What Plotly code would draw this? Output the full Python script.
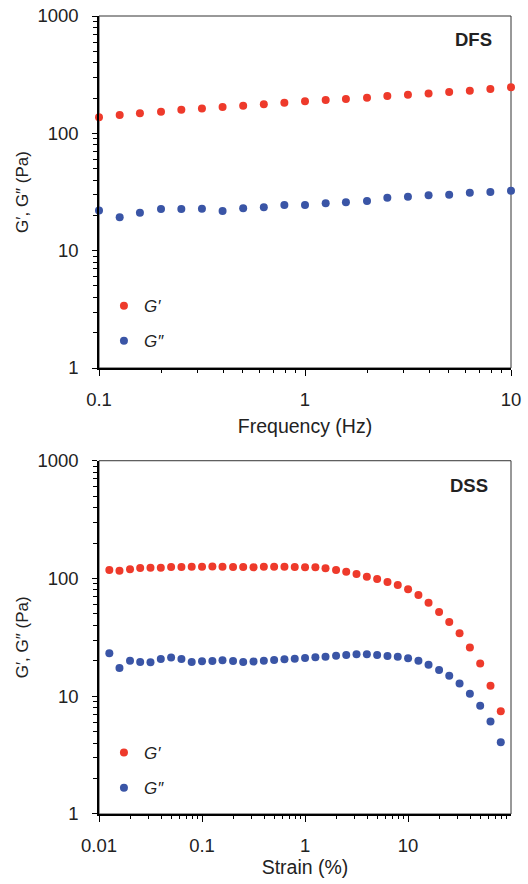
import plotly.graph_objects as go

# ---------------- data ----------------
freq_hz = [0.1, 0.126, 0.158, 0.2, 0.251, 0.316, 0.398, 0.501, 0.631, 0.794,
           1.0, 1.26, 1.58, 2.0, 2.51, 3.16, 3.98, 5.01, 6.31, 7.94, 10.0]
dfs_g1 = [137, 143, 148, 153, 159, 163, 168, 172, 177, 182,
          188, 192, 196, 201, 208, 213, 219, 225, 231, 239, 247]
dfs_g2 = [22.0, 19.3, 21.0, 22.6, 22.6, 22.8, 21.8, 23.0, 23.5, 24.5,
          24.5, 25.3, 25.8, 26.5, 28.3, 28.8, 29.6, 30.0, 31.2, 31.6, 32.4]

strain_pct = [0.0126, 0.0158, 0.02, 0.0251, 0.0316, 0.0398, 0.0501, 0.0631, 0.0794,
              0.1, 0.126, 0.158, 0.2, 0.251, 0.316, 0.398, 0.501, 0.631, 0.794,
              1.0, 1.26, 1.58, 2.0, 2.51, 3.16, 3.98, 5.01, 6.31, 7.94,
              10.0, 12.6, 15.8, 20.0, 25.1, 31.6, 39.8, 50.1, 63.1, 79.4]
dss_g1 = [118, 116.5, 119.7, 122.7, 123.5, 123.5, 125, 125, 126,
          126, 126.5, 126, 125, 125, 124.5, 126, 126, 126, 125,
          124.5, 124.5, 122, 118, 114, 109, 103.5, 99, 93.4, 88,
          81, 72.4, 62.3, 52, 42.8, 34.3, 26, 19, 12.3, 7.46]
dss_g2 = [23.2, 17.4, 20.0, 19.5, 19.4, 20.7, 21.3, 20.7, 19.5,
          19.8, 19.9, 20.2, 19.9, 19.5, 19.7, 20.0, 20.3, 20.6, 20.8,
          21.1, 21.4, 21.7, 22.1, 22.4, 22.7, 22.7, 22.4, 22.0, 21.6,
          21.0, 20.0, 18.5, 16.7, 14.9, 12.8, 10.5, 8.3, 6.1, 4.07]

series_names = ["<i>G′</i>", "<i>G″</i>"]
panel_labels = ["DFS", "DSS"]
x_titles = ["Frequency (Hz)", "Strain (%)"]
y_title = "G′, G″ (Pa)"

# ---------------- style ----------------
RED = "#EE3A2B"
BLUE = "#3A55A6"
FONT = "Liberation Sans, Arial, sans-serif"
MS = 8

fig = go.Figure()

def add(x, y, name, color, xa, ya, legend):
    fig.add_trace(go.Scatter(
        x=x, y=y, name=name, mode="markers", xaxis=xa, yaxis=ya,
        marker=dict(color=color, size=MS, line=dict(width=0)),
        cliponaxis=False, legend=legend, legendgroup=legend + name,
    ))

add(freq_hz, dfs_g1, series_names[0], RED, "x", "y", "legend")
add(freq_hz, dfs_g2, series_names[1], BLUE, "x", "y", "legend")
add(strain_pct, dss_g1, series_names[0], RED, "x2", "y2", "legend2")
add(strain_pct, dss_g2, series_names[1], BLUE, "x2", "y2", "legend2")

def xax(rng, title, anchor, standoff):
    return dict(
        type="log", range=rng, tickmode="linear", tick0=0, dtick=1,
        exponentformat="none", ticks="outside", ticklen=6, tickwidth=1.3,
        tickcolor="black", showline=True, linecolor="black", linewidth=1.5,
        showgrid=False, zeroline=False, anchor=anchor, domain=[0, 1],
        automargin=False, ticklabelstandoff=8, ticklabeloverflow="allow",
        tickfont=dict(size=18.5, color="#222"),
        title=dict(text=title, font=dict(size=19.5, color="#222"), standoff=standoff),
        minor=dict(ticks="outside", ticklen=3.5, tickwidth=1, tickcolor="black",
                   dtick="D1", showgrid=False),
    )

def yax(domain, anchor):
    return dict(
        type="log", range=[0, 3], tickmode="linear", tick0=0, dtick=1,
        exponentformat="none", ticks="outside", ticklen=5, tickwidth=1.3,
        tickcolor="black", showline=True, linecolor="black", linewidth=1.5,
        showgrid=False, zeroline=False, anchor=anchor, domain=domain,
        automargin=False, ticklabelstandoff=10, ticklabeloverflow="allow",
        tickfont=dict(size=18.5, color="#222"),
        title=dict(text=y_title, font=dict(size=17, color="#222"), standoff=4),
        minor=dict(ticks="outside", ticklen=4, tickwidth=1, tickcolor="black",
                   dtick="D1", showgrid=False),
    )

top_dom = [0.5589, 1.0]
bot_dom = [0.0, 0.4427]

fig.update_layout(
    width=528, height=884,
    margin=dict(l=99, r=17, t=16, b=70, autoexpand=False),
    paper_bgcolor="white", plot_bgcolor="white",
    font=dict(family=FONT, color="#222"),
    xaxis=xax([-1, 1], x_titles[0], "y", 10),
    yaxis=yax(top_dom, "x"),
    xaxis2=xax([-2, 1.999], x_titles[1], "y2", 3),
    yaxis2=yax(bot_dom, "x2"),
    legend=dict(x=0.012, y=0.659, xanchor="left", yanchor="top",
                font=dict(size=17, family=FONT, color="#222"),
                bgcolor="rgba(0,0,0,0)", itemwidth=30, tracegroupgap=10),
    legend2=dict(x=0.012, y=0.099, xanchor="left", yanchor="top",
                 font=dict(size=17, family=FONT, color="#222"),
                 bgcolor="rgba(0,0,0,0)", itemwidth=30, tracegroupgap=10),
    showlegend=True,
)

# thin frame on top/right
for xr, yr in (("x domain", "y domain"), ("x2 domain", "y2 domain")):
    fig.add_shape(type="rect", xref=xr, yref=yr, x0=0, x1=1, y0=0, y1=1,
                  line=dict(color="#333", width=1), layer="below")

fig.add_annotation(xref="x domain", yref="y domain", x=0.908, y=0.932,
                   xanchor="center", yanchor="middle",
                   text="<b>" + panel_labels[0] + "</b>", showarrow=False,
                   font=dict(size=18.5, family=FONT, color="#222"))
fig.add_annotation(xref="x2 domain", yref="y2 domain", x=0.897, y=0.931,
                   xanchor="center", yanchor="middle",
                   text="<b>" + panel_labels[1] + "</b>", showarrow=False,
                   font=dict(size=18.5, family=FONT, color="#222"))

fig.write_html("out.html", config={"displayModeBar": False},
               post_script="document.body.style.margin='0px';")
